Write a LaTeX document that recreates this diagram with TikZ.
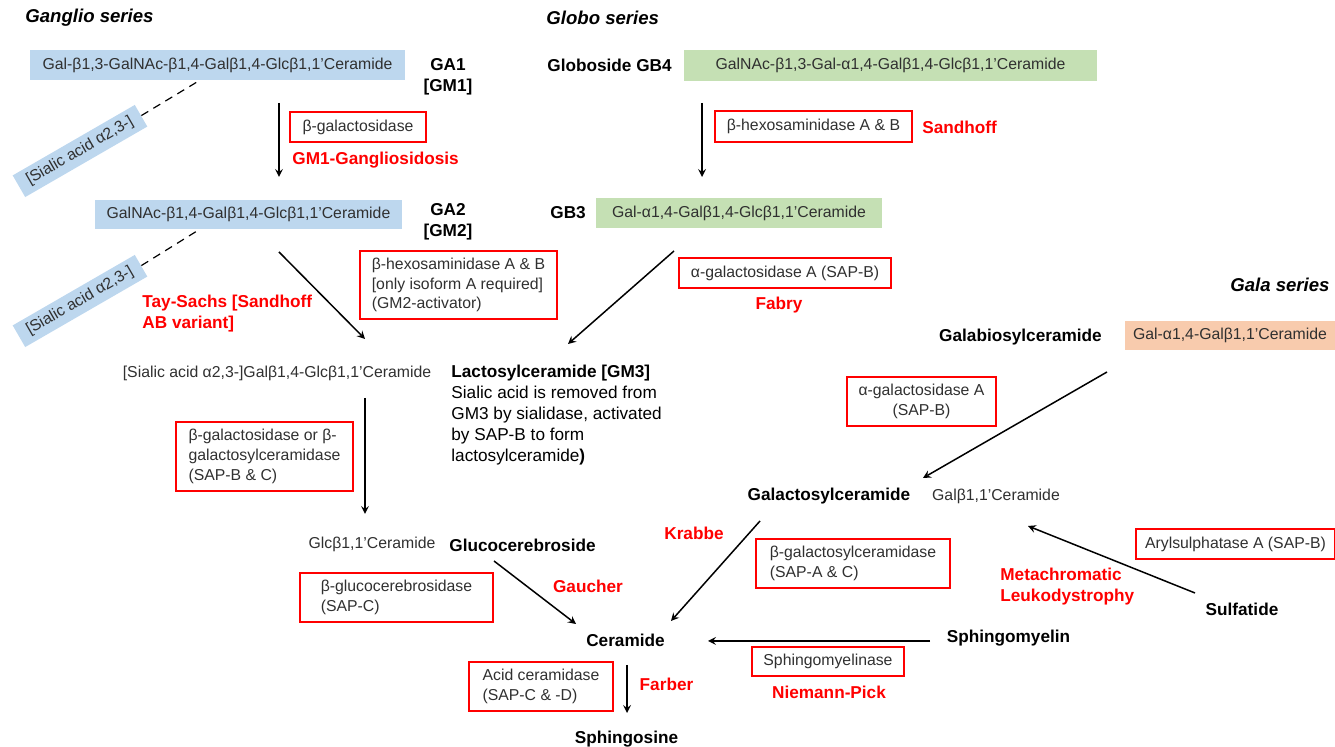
\documentclass[tikz,border=0pt]{standalone}
\usepackage{fontspec}
\setmainfont{Liberation Sans}
\definecolor{blu}{HTML}{BDD7EE}
\definecolor{grn}{HTML}{C5E0B4}
\definecolor{ora}{HTML}{F8CBAD}
\definecolor{disred}{HTML}{FF0000}
\definecolor{txt}{HTML}{303030}
\newcommand\fnorm{\fontsize{7.9}{9.8}\selectfont}
\newcommand\fbig{\fontsize{8.6}{10.5}\selectfont}
\newcommand\fttl{\fontsize{9.3}{11}\selectfont\bfseries\itshape}

\begin{document}
\begin{tikzpicture}[x=0.5pt,y=-0.5pt,>=stealth,
  sz/.style 2 args={minimum width=#1*0.5pt,minimum height=#2*0.5pt},
  sugar/.style={fill=#1,inner sep=0pt,text=txt,font=\fnorm},
  enz/.style={draw=disred,line width=0.6pt,inner sep=0pt,text=txt,font=\fnorm,align=left},
  plain/.style={text=txt,font=\fnorm,inner sep=0pt},
  lbl/.style={font=\fbig\bfseries,align=center,inner sep=0pt},
  dis/.style={text=disred,font=\fbig\bfseries,align=left,inner sep=0pt},
  ttl/.style={font=\fttl,inner sep=0pt},
  fwd/.style={->,line width=0.75pt}]
      \useasboundingbox (0,0) rectangle (1335,747);
      \path
      (25,18) node[ttl,anchor=west](gangt) {Ganglio series}
      (546,18) node[ttl,anchor=west](globt) {Globo series}
      (1330,285) node[ttl,anchor=east](galat) {Gala series}
      (217.5,65) node[sugar=blu,sz={375}{30}](ga1) {Gal-β1,3-GalNAc-β1,4-Galβ1,4-Glcβ1,1'Ceramide}
      (448,77) node[lbl](ga1l) {GA1\\{}[GM1]}
      (80,151) node[sugar=blu,sz={141}{25},rotate=30](sia1) {[Sialic acid α2,3-]}
      (197,82) coordinate(ga1d)
      (358,127) node[enz,sz={136}{30}](bgal) {β-galactosidase}
      (292,160) node[dis,anchor=west](gm1d) {GM1-Gangliosidosis}
      (248.5,214.5) node[sugar=blu,sz={307}{29}](ga2) {GalNAc-β1,4-Galβ1,4-Glcβ1,1'Ceramide}
      (448,222) node[lbl](ga2l) {GA2\\{}[GM2]}
      (80,301) node[sugar=blu,sz={141}{25},rotate=30](sia2) {[Sialic acid α2,3-]}
      (197,231) coordinate(ga2d)
      (142,314) node[dis,anchor=west](tay) {Tay-Sachs [Sandhoff\\AB variant]}
      (458.5,285) node[enz,sz={197}{68}](hexa) {β-hexosaminidase A \& B\\{}[only isoform A required]\\(GM2-activator)}
      (547,65) node[lbl,anchor=west](gb4l) {Globoside GB4}
      (890.5,65.5) node[sugar=grn,sz={413}{31}](gb4) {GalNAc-β1,3-Gal-α1,4-Galβ1,4-Glcβ1,1'Ceramide}
      (813.5,126.5) node[enz,sz={197}{31}](hexab) {β-hexosaminidase A \& B}
      (922,127) node[dis,anchor=west](sandh) {Sandhoff}
      (550,213) node[lbl,anchor=west](gb3l) {GB3}
      (739,213) node[sugar=grn,sz={286}{30}](gb3) {Gal-α1,4-Galβ1,4-Glcβ1,1'Ceramide}
      (785,273) node[enz,sz={212}{30}](agal) {α-galactosidase A (SAP-B)}
      (779,305) node[dis](fabry) {Fabry}
      (1020.5,337) node[lbl](galbl) {Galabiosylceramide}
      (1230,335.5) node[sugar=ora,sz={210}{29}](galb) {Gal-α1,4-Galβ1,1'Ceramide}
      (921.5,401.5) node[enz,sz={149}{49},align=center](agal2) {α-galactosidase A\\(SAP-B)}
      (829,496) node[lbl](gcl) {Galactosylceramide}
      (996,496) node[plain](gc) {Galβ1,1'Ceramide}
      (1235.5,544) node[enz,sz={199}{30}](aryl) {Arylsulphatase A (SAP-B)}
      (1000,587) node[dis,anchor=west](mld) {Metachromatic\\Leukodystrophy}
      (1242,609) node[lbl](sulf) {Sulfatide}
      (1008.5,638) node[lbl](sm) {Sphingomyelin}
      (828,661.5) node[enz,sz={152}{29}](smase) {Sphingomyelinase}
      (829,692) node[dis](npick) {Niemann-Pick}
      (694,533) node[dis](krab) {Krabbe}
      (853,563.5) node[enz,sz={194}{49}](bgc) {β-galactosylceramidase\\(SAP-A \& C)}
      (277,373) node[plain](sialac) {[Sialic acid α2,3-]Galβ1,4-Glcβ1,1'Ceramide}
      (451,415) node[anchor=west,font=\fbig,align=left,inner sep=0pt](lac) {{\bfseries Lactosylceramide [GM3]}\\Sialic acid is removed from\\GM3 by sialidase, activated\\by SAP-B to form\\lactosylceramide\textbf{)}}
      (264.5,456.5) node[enz,sz={177}{69}](bgor) {β-galactosidase or β-\\galactosylceramidase\\(SAP-B \& C)}
      (372,544) node[plain](glc) {Glcβ1,1'Ceramide}
      (522.5,545) node[lbl](glcl) {Glucocerebroside}
      (396.5,597.5) node[enz,sz={193}{49}](bglc) {β-glucocerebrosidase\\(SAP-C)}
      (588,586) node[dis](gauch) {Gaucher}
      (625.5,640) node[lbl](cer) {Ceramide}
      (541,686.5) node[enz,sz={144}{49}](acer) {Acid ceramidase\\(SAP-C \& -D)}
      (666.5,684) node[dis](farb) {Farber}
      (626.5,739) node[lbl](sph) {Sphingosine}
      (279,103) coordinate(ga1o)
      (279,177) coordinate(ga2i)
      (279,252) coordinate(ga2o)
      (365,339) coordinate(lci1)
      (702,103) coordinate(gb4o)
      (702,177) coordinate(gb3i)
      (674,251) coordinate(gb3o)
      (568,344) coordinate(lci2)
      (1107,372) coordinate(galbo)
      (923,478) coordinate(gci1)
      (1195,593) coordinate(sulfo)
      (1028,526) coordinate(gci2)
      (365,398) coordinate(sialo)
      (365,514) coordinate(glci)
      (494,561) coordinate(glco)
      (576,624) coordinate(cei1)
      (760,521) coordinate(gco)
      (671,621) coordinate(cei2)
      (930,641) coordinate(smo)
      (708,641) coordinate(cei3)
      (627,665) coordinate(ceo)
      (627,713) coordinate(sphi)
      ;

      \draw[dashed,dash pattern=on 4pt off 3pt,line width=0.6pt] (sia1.east) -- (ga1d);
      \draw[dashed,dash pattern=on 4pt off 3pt,line width=0.6pt] (sia2.east) -- (ga2d);
      \draw[fwd] (ga1o) -- (ga2i);
      \draw[fwd] (ga2o) -- (lci1);
      \draw[fwd] (gb4o) -- (gb3i);
      \draw[fwd] (gb3o) -- (lci2);
      \draw[fwd] (galbo) -- (gci1);
      \draw[fwd] (sulfo) -- (gci2);
      \draw[fwd] (sialo) -- (glci);
      \draw[fwd] (glco) -- (cei1);
      \draw[fwd] (gco) -- (cei2);
      \draw[fwd] (smo) -- (cei3);
      \draw[fwd] (ceo) -- (sphi);
    \end{tikzpicture}
\end{document}
